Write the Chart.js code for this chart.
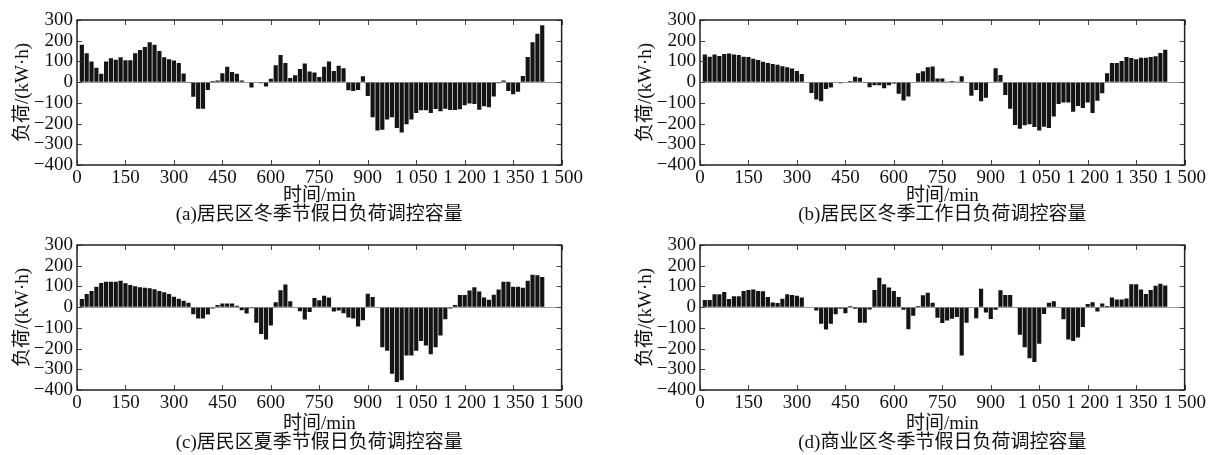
<!DOCTYPE html>
<html>
<head>
<meta charset="utf-8">
<script src="https://cdn.jsdelivr.net/npm/chart.js@4.4.1/dist/chart.umd.min.js"></script>
<style>
  body { margin: 0; background: #fff; }
  #wrap { position: relative; width: 1208px; height: 455px; overflow: hidden; }
  canvas { position: absolute; }
</style>
</head>
<body>
<div id="wrap">
  <canvas id="chartA" width="585" height="234" style="left:0;top:0"></canvas>
  <canvas id="chartB" width="585" height="234" style="left:623px;top:0"></canvas>
  <canvas id="chartC" width="585" height="230" style="left:0;top:225px"></canvas>
  <canvas id="chartD" width="585" height="230" style="left:623px;top:225px"></canvas>
</div>
<script>
// 15-min slots over one day, bar centres in minutes
var minutes = [];
for (var i = 1; i <= 96; i++) minutes.push(i * 15);

var xTicks = [0, 150, 300, 450, 600, 750, 900, 1050, 1200, 1350, 1500];
var yTicks = [-400, -300, -200, -100, 0, 100, 200, 300];

// (a) residential, winter holiday
var loadA = [180,140,100,70,40,100,115,108,120,106, 106,140,155,170,193,180,150,120,110,105,
  92,42,-2,-70,-128,-128,-38,5,8,43, 74,49,41,8,2,-26,0,-5,-21,16,
  82,131,92,20,33,64,90,51,46,25, 74,100,54,79,67,-39,-43,-38,28,-67,
  -169,-233,-230,-180,-169,-221,-243,-203,-180,-149, -136,-136,-149,-130,-141,-128,-134,-134,-131,-111,
  -103,-105,-133,-116,-121,-69,-5,8,-43,-59, -46,30,121,193,234,275];

// (b) residential, winter workday
var loadB = [134,123,133,126,136,138,134,131,123,121, 113,107,98,93,87,84,77,72,66,54,
  39,2,-52,-84,-92,-33,-26,-3,-5,0, 6,26,21,-2,-25,-15,-15,-30,-15,-7,
  -56,-89,-69,0,43,52,72,75,18,18, 3,6,3,28,0,-66,-38,-92,-75,0,
  67,34,-62,-128,-207,-225,-208,-203,-216,-234, -215,-221,-166,-105,-98,-98,-143,-115,-125,-98,
  -149,-90,-54,43,93,93,102,121,116,111, 118,118,121,125,141,156];

// (c) residential, summer holiday
var loadC = [39,63,78,99,117,122,122,122,128,115, 107,101,96,94,91,86,78,72,63,50,
  41,31,21,-34,-55,-55,-36,-7,10,18, 18,18,7,-15,-31,-5,-75,-130,-156,-89,
  24,81,109,29,0,-20,-60,-23,44,33, 55,47,-21,-16,-29,-50,-55,-93,-63,65,
  49,0,-194,-210,-322,-361,-353,-233,-233,-210, -163,-185,-228,-194,-137,-59,-7,10,59,59,
  80,96,75,46,36,60,85,122,122,98, 98,94,127,156,154,146];

// (d) commercial, winter holiday
var loadD = [34,34,62,62,73,39,52,52,78,83, 85,78,77,49,23,20,41,62,59,55,
  46,2,0,-16,-80,-108,-80,-34,-8,-30, 5,-8,-75,-75,-11,83,142,110,95,78,
  49,-13,-107,-41,5,57,69,21,-51,-77, -64,-56,-48,-234,-75,2,-54,89,-26,-57,
  -13,82,59,59,0,-133,-194,-247,-265,-177, -33,21,29,0,-59,-156,-163,-146,-96,15,
  24,-21,18,5,47,37,37,42,110,110, 85,64,83,103,113,105];

var FONT = "'Liberation Serif', 'Noto Sans CJK SC', serif";

// box round the plot and inward tick marks on all four sides
var boxTicks = {
  id: 'boxTicks',
  afterDatasetsDraw: function(chart) {
    var ctx = chart.ctx, a = chart.chartArea, x = chart.scales.x, y = chart.scales.y;
    ctx.save();
    ctx.strokeStyle = '#444';
    ctx.lineWidth = 1;
    ctx.beginPath();
    xTicks.forEach(function(v) {
      var px = Math.round(x.getPixelForValue(v)) + 0.5;
      ctx.moveTo(px, a.bottom); ctx.lineTo(px, a.bottom - 5);
      ctx.moveTo(px, a.top); ctx.lineTo(px, a.top + 5);
    });
    yTicks.forEach(function(v) {
      var py = Math.round(y.getPixelForValue(v)) + 0.5;
      ctx.moveTo(a.left, py); ctx.lineTo(a.left + 5, py);
      ctx.moveTo(a.right, py); ctx.lineTo(a.right - 5, py);
    });
    ctx.stroke();
    ctx.strokeStyle = '#222';
    ctx.lineWidth = 1.5;
    ctx.strokeRect(a.left, a.top, a.right - a.left, a.bottom - a.top);
    ctx.restore();
  }
};
Chart.register(boxTicks);

function fmtX(v) {
  if (v >= 1000) return '1 ' + String(v - 1000).padStart(3, '0');
  return String(v);
}

function makeChart(id, values, caption, xHeight, capPad) {
  var points = minutes.map(function(m, i) { return { x: m, y: values[i] }; });
  return new Chart(document.getElementById(id), {
    type: 'bar',
    data: {
      datasets: [{
        data: points,
        backgroundColor: '#141414',
        barPercentage: 0.86,
        categoryPercentage: 1
      }]
    },
    options: {
      responsive: false,
      animation: false,
      devicePixelRatio: 1,
      layout: { padding: { top: 20, right: 23, left: 0, bottom: 0 } },
      plugins: {
        legend: { display: false },
        tooltip: { enabled: false },
        title: {
          display: true,
          text: caption,
          position: 'bottom',
          fullSize: false,
          color: '#111',
          font: { family: FONT, size: 19, weight: 'normal', lineHeight: 1 },
          padding: { top: 0, bottom: capPad }
        }
      },
      scales: {
        x: {
          type: 'linear',
          min: 0, max: 1500,
          offset: false,
          afterBuildTicks: function(s) { s.ticks = xTicks.map(function(v) { return { value: v }; }); },
          afterFit: function(s) { s.height = xHeight; },
          grid: { display: false, drawTicks: false },
          border: { display: false },
          ticks: {
            color: '#111',
            padding: 2,
            maxRotation: 0,
            autoSkip: false,
            font: { family: FONT, size: 19 },
            callback: function(v) { return fmtX(v); }
          },
          title: {
            display: true,
            text: '时间/min',
            color: '#111',
            font: { family: FONT, size: 19, lineHeight: 1 },
            padding: { top: 0, bottom: 0 }
          }
        },
        y: {
          min: -400, max: 300,
          afterBuildTicks: function(s) { s.ticks = yTicks.map(function(v) { return { value: v }; }); },
          afterFit: function(s) { s.width = 77; },
          grid: {
            drawTicks: false,
            color: function(c) { return c.tick && c.tick.value === 0 ? '#9a9a9a' : 'rgba(0,0,0,0)'; },
            lineWidth: 1
          },
          border: { display: false },
          ticks: {
            color: '#111',
            padding: 4,
            autoSkip: false,
            font: { family: FONT, size: 19 },
            callback: function(v) { return v < 0 ? '\u2212' + Math.abs(v) : String(v); }
          },
          title: {
            display: true,
            text: '负荷/(kW·h)',
            color: '#111',
            font: { family: FONT, size: 19, lineHeight: 1 },
            padding: { top: 14, bottom: 0 }
          }
        }
      }
    }
  });
}

makeChart('chartA', loadA, '(a)居民区冬季节假日负荷调控容量', 40.5, 9.5);
makeChart('chartB', loadB, '(b)居民区冬季工作日负荷调控容量', 40.5, 9.5);
makeChart('chartC', loadC, '(c)居民区夏季节假日负荷调控容量', 44, 2);
makeChart('chartD', loadD, '(d)商业区冬季节假日负荷调控容量', 44, 2);
</script>
</body>
</html>
